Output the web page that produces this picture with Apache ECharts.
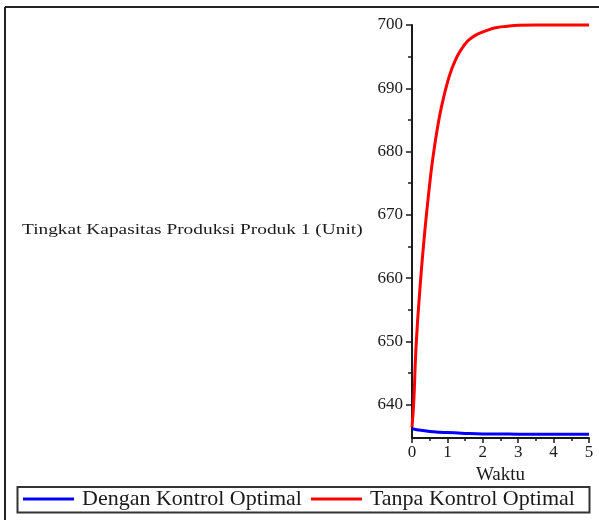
<!DOCTYPE html>
<html>
<head>
<meta charset="utf-8">
<script src="https://cdn.jsdelivr.net/npm/echarts@6/dist/echarts.min.js"></script>
<style>
  html, body { margin: 0; padding: 0; background: #fff; }
  #chart { width: 599px; height: 520px; }
</style>
</head>
<body>
<div id="chart"></div>
<script>
// Time points (Waktu) and production capacity of product 1
const timeRed = [0, 0.05, 0.1, 0.15, 0.2, 0.25, 0.3, 0.35, 0.4, 0.45, 0.5, 0.55, 0.6, 0.7, 0.8, 0.9, 1.0, 1.1, 1.2, 1.3, 1.4, 1.5, 1.6, 1.8, 2.0, 2.2, 2.4, 2.7, 3.0, 3.5, 4.0, 4.5, 5.0];
const tanpaKontrol = [636.5, 640.5, 647.5, 652.5, 656.5, 660.2, 663.6, 666.7, 669.6, 672.3, 674.9, 677.3, 679.4, 683.1, 686.2, 688.7, 690.9, 692.7, 694.1, 695.3, 696.2, 697.0, 697.6, 698.4, 698.9, 699.3, 699.6, 699.8, 699.95, 700, 700, 700, 700];

const timeBlue = [0, 0.1, 0.3, 0.6, 1.0, 1.5, 2.0, 3.0, 4.0, 5.0];
const denganKontrol = [636.2, 636.1, 635.95, 635.75, 635.6, 635.48, 635.4, 635.36, 635.35, 635.35];

const yMajorTicks = [640, 650, 660, 670, 680, 690, 700];
const yMinorTicks = [645, 655, 665, 675, 685, 695];

const yTitle = 'Tingkat Kapasitas Produksi Produk 1 (Unit)';
const xTitle = 'Waktu';
const seriesNames = ['Dengan Kontrol Optimal', 'Tanpa Kontrol Optimal'];

const FONT = '"Liberation Serif", "Times New Roman", serif';
const INK = '#1a1a1a';

const chart = echarts.init(document.getElementById('chart'), null, { renderer: 'canvas' });

const yBase = {
  type: 'value',
  min: 634.75,
  max: 700,
  position: 'left',
  splitLine: { show: false },
  axisLine: { show: true, onZero: false, lineStyle: { color: INK, width: 2 } }
};

chart.setOption({
  animation: false,
  backgroundColor: '#fff',
  grid: { left: 412, right: 10, top: 25, bottom: 82, containLabel: false },
  xAxis: {
    type: 'value',
    min: 0,
    max: 5,
    interval: 1,
    name: xTitle,
    nameLocation: 'middle',
    nameGap: 24,
    nameTextStyle: { fontFamily: FONT, fontSize: 19, color: INK },
    axisLine: { show: true, onZero: false, lineStyle: { color: INK, width: 2 } },
    axisTick: { show: true, length: 5, lineStyle: { color: INK, width: 1.5 } },
    minorTick: { show: true, splitNumber: 2, length: 3, lineStyle: { color: INK, width: 1.5 } },
    axisLabel: { fontFamily: FONT, fontSize: 17, color: INK, margin: 6 },
    splitLine: { show: false }
  },
  yAxis: [
    Object.assign({}, yBase, {
      axisTick: { show: true, length: 6, customValues: yMajorTicks, lineStyle: { color: INK, width: 1.5 } },
      axisLabel: { show: true, customValues: yMajorTicks, fontFamily: FONT, fontSize: 17, color: INK, margin: 9 }
    }),
    Object.assign({}, yBase, {
      axisLine: { show: false },
      axisTick: { show: true, length: 4, customValues: yMinorTicks, lineStyle: { color: INK, width: 1.5 } },
      axisLabel: { show: false }
    })
  ],
  legend: {
    left: 23,
    top: 488,
    itemGap: 9,
    itemWidth: 51,
    itemHeight: 3,
    padding: 0,
    icon: 'rect',
    textStyle: { fontFamily: FONT, fontSize: 22, color: INK, padding: [0, 0, 0, 3] },
    data: seriesNames
  },
  series: [
    {
      name: seriesNames[0],
      type: 'line',
      data: timeBlue.map((t, i) => [t, denganKontrol[i]]),
      showSymbol: false,
      smooth: true,
      clip: false,
      lineStyle: { color: '#0000ff', width: 3 },
      itemStyle: { color: '#0000ff' },
      z: 3
    },
    {
      name: seriesNames[1],
      type: 'line',
      data: timeRed.map((t, i) => [t, tanpaKontrol[i]]),
      showSymbol: false,
      smooth: true,
      clip: false,
      lineStyle: { color: '#ff0000', width: 3 },
      itemStyle: { color: '#ff0000' },
      z: 2
    }
  ],
  graphic: [
    // outer frame (top and left edges)
    { type: 'line', shape: { x1: 5, y1: 7, x2: 599, y2: 7 }, style: { stroke: '#222', lineWidth: 2 } },
    { type: 'line', shape: { x1: 5, y1: 7, x2: 5, y2: 520 }, style: { stroke: '#222', lineWidth: 2 } },
    // legend box
    { type: 'rect', shape: { x: 17.5, y: 487, width: 572, height: 25.5 }, style: { fill: 'none', stroke: '#333', lineWidth: 2 }, z: -1 },
    // y-axis title, drawn slightly widened
    {
      type: 'text',
      x: 22,
      y: 230,
      scaleX: 1.29,
      style: { text: yTitle, font: '15px ' + FONT, fill: INK, verticalAlign: 'middle', align: 'left' }
    }
  ]
});
</script>
</body>
</html>
